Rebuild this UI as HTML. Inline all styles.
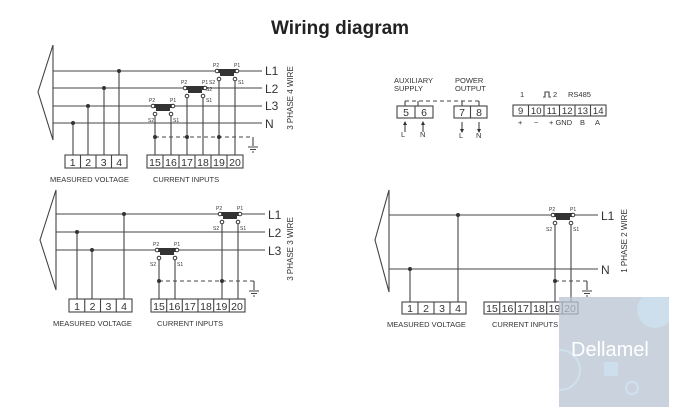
<!DOCTYPE html>
<html><head><meta charset="utf-8"><style>
html,body{margin:0;padding:0;background:#fff;}
svg{display:block;}
text{font-family:"Liberation Sans",sans-serif;fill:#333;}
</style></head><body>
<svg width="676" height="414" viewBox="0 0 676 414" xmlns="http://www.w3.org/2000/svg">
<defs><clipPath id="wm"><rect x="559" y="297" width="110" height="110"/></clipPath></defs>
<text x="340" y="34" text-anchor="middle" style="font-weight:bold;font-size:19px;fill:#222">Wiring diagram</text>
<g stroke="#444" stroke-width="1.1" fill="none">
<path d="M53,45 L38,92 L53,140 Z"/>
<path d="M53,71H262M53,88H262M53,106H262M53,123H262"/>
<path d="M73,123V155M88,106V155M104,88V155M119,71V155"/>
<rect x="65" y="155" width="62" height="13"/>
<path d="M80.5,155v13M96,155v13M111.5,155v13"/>
<rect x="147" y="155" width="96" height="13"/>
<path d="M163,155v13M179,155v13M195,155v13M211,155v13M227,155v13"/>
<path d="M155,116V155M171,116V155M187,98V155M203,98V155M219,81V155M235,81V155"/>
<path d="M155,137H253" stroke-dasharray="4,3"/>
<path d="M253,137v9M248,147h10M250,149.5h6M252,152h2"/>
<path d="M56,190 L40,240 L56,290 Z"/>
<path d="M56,214H265M56,232H265M56,250H265"/>
<path d="M77,232V299M92,250V299M124,214V299"/>
<rect x="69" y="299" width="63" height="13"/>
<path d="M84.75,299v13M100.5,299v13M116.25,299v13"/>
<rect x="151" y="299" width="94" height="13"/>
<path d="M166.7,299v13M182.3,299v13M198,299v13M213.7,299v13M229.3,299v13"/>
<path d="M159,260V299M175,260V299M222,224V299M238,224V299"/>
<path d="M159,281H254" stroke-dasharray="4,3"/>
<path d="M254,281v9M249,291h10M251,293.5h6M253,296h2"/>
<path d="M389,190 L375,240 L389,292 Z"/>
<path d="M389,215H598M389,269H598"/>
<path d="M410,269V302M458,215V302"/>
<rect x="402" y="302" width="64" height="12"/>
<path d="M418,302v12M434,302v12M450,302v12"/>
<rect x="484" y="302" width="94" height="12"/>
<path d="M499.7,302v12M515.3,302v12M531,302v12M546.7,302v12M562.3,302v12"/>
<path d="M555,225V302M571,225V302"/>
<path d="M555,281H587" stroke-dasharray="4,3"/>
<path d="M587,281v9M582,291h10M584,293.5h6M586,296h2"/>
<rect x="397" y="106" width="36" height="12"/><path d="M415,106v12"/>
<rect x="454" y="106" width="33" height="12"/><path d="M470.5,106v12"/>
<path d="M405,101H479" stroke-dasharray="4,3"/>
<path d="M405,101v5M418,101v5M462,101v5M479,101v5"/>
<path d="M405,122v10M423,122v10M462,122v10M479,122v10"/>
<rect x="513" y="105" width="93" height="11"/>
<path d="M528.5,105v11M544,105v11M559.5,105v11M575,105v11M590.5,105v11"/>
<path d="M543,97h2v-5h4v5h2"/>
</g>
<g fill="#333">
<path d="M405,121l-2,4h4zM423,121l-2,4h4zM462,133l-2,-4h4zM479,133l-2,-4h4z"/>
<circle cx="73" cy="123" r="2"/><circle cx="88" cy="106" r="2"/><circle cx="104" cy="88" r="2"/><circle cx="119" cy="71" r="2"/>
<circle cx="155" cy="137" r="2"/><circle cx="187" cy="137" r="2"/><circle cx="219" cy="137" r="2"/>
<circle cx="77" cy="232" r="2"/><circle cx="92" cy="250" r="2"/><circle cx="124" cy="214" r="2"/>
<circle cx="159" cy="281" r="2"/><circle cx="222" cy="281" r="2"/>
<circle cx="410" cy="269" r="2"/><circle cx="458" cy="215" r="2"/><circle cx="555" cy="281" r="2"/>
</g>
<g stroke="#333" fill="#fff" stroke-width="1">
<g transform="translate(153,106)"><rect x="0" y="-1.5" width="20" height="3" fill="#333"/><path d="M3,3.5h14" stroke-width="3"/><circle cx="0" cy="0" r="1.8"/><circle cx="20" cy="0" r="1.8"/><circle cx="2" cy="8" r="1.8"/><circle cx="18" cy="8" r="1.8"/></g>
<g transform="translate(185,88)"><rect x="0" y="-1.5" width="20" height="3" fill="#333"/><path d="M3,3.5h14" stroke-width="3"/><circle cx="0" cy="0" r="1.8"/><circle cx="20" cy="0" r="1.8"/><circle cx="2" cy="8" r="1.8"/><circle cx="18" cy="8" r="1.8"/></g>
<g transform="translate(217,71)"><rect x="0" y="-1.5" width="20" height="3" fill="#333"/><path d="M3,3.5h14" stroke-width="3"/><circle cx="0" cy="0" r="1.8"/><circle cx="20" cy="0" r="1.8"/><circle cx="2" cy="8" r="1.8"/><circle cx="18" cy="8" r="1.8"/></g>
<g transform="translate(157,250)"><rect x="0" y="-1.5" width="20" height="3" fill="#333"/><path d="M3,3.5h14" stroke-width="3"/><circle cx="0" cy="0" r="1.8"/><circle cx="20" cy="0" r="1.8"/><circle cx="2" cy="8" r="1.8"/><circle cx="18" cy="8" r="1.8"/></g>
<g transform="translate(220,214)"><rect x="0" y="-1.5" width="20" height="3" fill="#333"/><path d="M3,3.5h14" stroke-width="3"/><circle cx="0" cy="0" r="1.8"/><circle cx="20" cy="0" r="1.8"/><circle cx="2" cy="8" r="1.8"/><circle cx="18" cy="8" r="1.8"/></g>
<g transform="translate(553,215)"><rect x="0" y="-1.5" width="20" height="3" fill="#333"/><path d="M3,3.5h14" stroke-width="3"/><circle cx="0" cy="0" r="1.8"/><circle cx="20" cy="0" r="1.8"/><circle cx="2" cy="8" r="1.8"/><circle cx="18" cy="8" r="1.8"/></g>
</g>
<g style="font-size:5px">
<text x="149" y="102">P2</text><text x="170" y="102">P1</text><text x="148" y="122">S2</text><text x="173" y="122">S1</text>
<text x="181" y="84">P2</text><text x="202" y="84">P1</text><text x="206" y="91">S2</text><text x="206" y="102">S1</text>
<text x="213" y="67">P2</text><text x="234" y="67">P1</text><text x="209" y="84">S2</text><text x="238" y="84">S1</text>
<text x="153" y="246">P2</text><text x="174" y="246">P1</text><text x="150" y="266">S2</text><text x="177" y="266">S1</text>
<text x="216" y="210">P2</text><text x="237" y="210">P1</text><text x="213" y="230">S2</text><text x="240" y="230">S1</text>
<text x="549" y="211">P2</text><text x="570" y="211">P1</text><text x="546" y="231">S2</text><text x="573" y="231">S1</text>
</g>
<g style="font-size:12px">
<text x="265" y="75">L1</text><text x="265" y="93">L2</text><text x="265" y="110">L3</text><text x="265" y="128">N</text>
<text x="268" y="219">L1</text><text x="268" y="237">L2</text><text x="268" y="255">L3</text>
<text x="601" y="220">L1</text><text x="601" y="274">N</text>
</g>
<g style="font-size:10.5px" text-anchor="middle">
<text x="72.7" y="166">1</text><text x="88.2" y="166">2</text><text x="103.7" y="166">3</text><text x="119.2" y="166">4</text>
<text x="155" y="166">15</text><text x="171" y="166">16</text><text x="187" y="166">17</text><text x="203" y="166">18</text><text x="219" y="166">19</text><text x="235" y="166">20</text>
<text x="77" y="310">1</text><text x="92.6" y="310">2</text><text x="108.4" y="310">3</text><text x="124" y="310">4</text>
<text x="159" y="310">15</text><text x="174.5" y="310">16</text><text x="190" y="310">17</text><text x="206" y="310">18</text><text x="221.5" y="310">19</text><text x="237" y="310">20</text>
<text x="410" y="312">1</text><text x="426" y="312">2</text><text x="442" y="312">3</text><text x="458" y="312">4</text>
<text x="492" y="312">15</text><text x="507.5" y="312">16</text><text x="523" y="312">17</text><text x="539" y="312">18</text><text x="554.5" y="312">19</text><text x="570" y="312">20</text>
<text x="406" y="116">5</text><text x="424" y="116">6</text><text x="462" y="116">7</text><text x="479" y="116">8</text>
<text x="520.7" y="114" style="font-size:9.5px">9</text><text x="536.2" y="114" style="font-size:9.5px">10</text><text x="551.7" y="114" style="font-size:9.5px">11</text><text x="567.2" y="114" style="font-size:9.5px">12</text><text x="582.7" y="114" style="font-size:9.5px">13</text><text x="598.2" y="114" style="font-size:9.5px">14</text>
</g>
<g style="font-size:7.5px">
<text x="50" y="182">MEASURED VOLTAGE</text><text x="153" y="182">CURRENT INPUTS</text>
<text x="53" y="326">MEASURED VOLTAGE</text><text x="157" y="326">CURRENT INPUTS</text>
<text x="387" y="327">MEASURED VOLTAGE</text><text x="492" y="327">CURRENT INPUTS</text>
<text x="394" y="83">AUXILIARY</text><text x="394" y="91">SUPPLY</text>
<text x="455" y="83">POWER</text><text x="455" y="91">OUTPUT</text>
<text x="401" y="137">L</text><text x="420" y="137">N</text><text x="459" y="138">L</text><text x="476" y="138">N</text>
<text x="520" y="97">1</text><text x="553" y="97">2</text><text x="568" y="97">RS485</text>
<text x="518" y="125">+</text><text x="534" y="125">−</text><text x="549" y="125">+ GND</text><text x="580" y="125">B</text><text x="595" y="125">A</text>
</g>
<g style="font-size:8px" text-anchor="middle">
<text transform="translate(293,98) rotate(-90)">3 PHASE 4 WIRE</text>
<text transform="translate(293,249) rotate(-90)">3 PHASE 3 WIRE</text>
<text transform="translate(627,241) rotate(-90)">1 PHASE 2 WIRE</text>
</g>
<rect x="559" y="297" width="110" height="110" fill="#b8c4d2" opacity="0.75"/>
<g clip-path="url(#wm)">
<circle cx="655" cy="310" r="18" fill="#cfe3f3" opacity="0.7"/>
<circle cx="560" cy="370" r="20" fill="none" stroke="#cfe3f3" stroke-width="2" opacity="0.8"/>
<rect x="604" y="362" width="14" height="14" fill="#cfe3f3" opacity="0.7"/>
<circle cx="632" cy="388" r="6" fill="none" stroke="#cfe3f3" stroke-width="2" opacity="0.8"/>
</g>
<text x="571" y="356" style="font-size:20px;fill:#fff">Dellamel</text>
</svg>
</body></html>
